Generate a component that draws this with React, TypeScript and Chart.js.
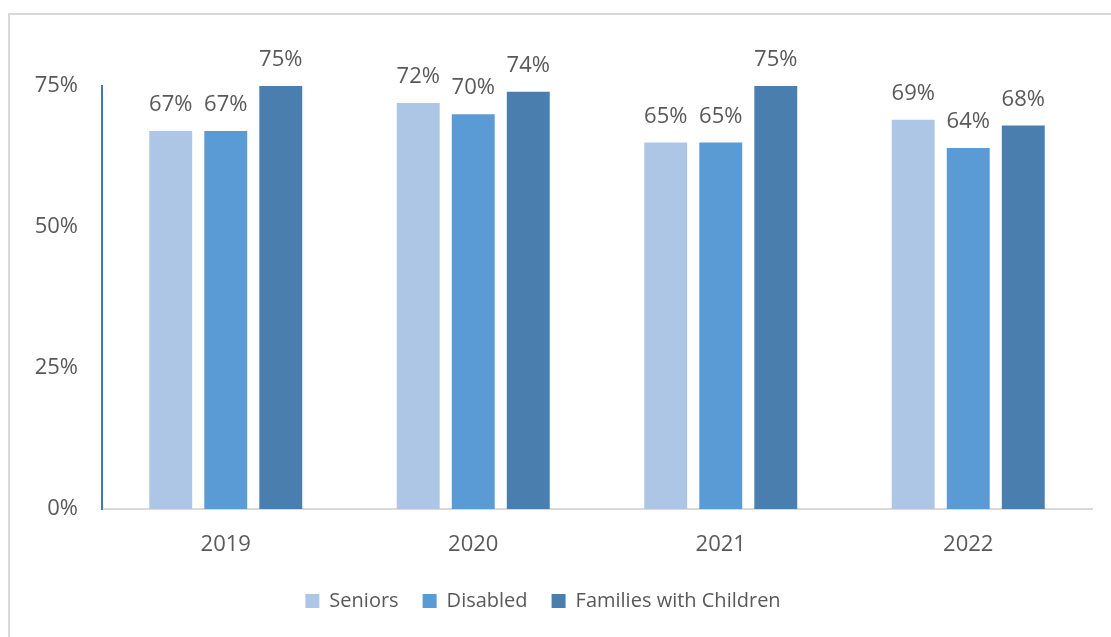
import React, { useEffect, useRef } from "react";
import { Chart, registerables } from "chart.js";

Chart.register(...registerables);

const categories = ["2019", "2020", "2021", "2022"];
const seniors = [67, 72, 65, 69];
const disabled = [67, 70, 65, 64];
const families = [75, 74, 75, 68];
const yTicks = [0, 25, 50, 75];
const seriesNames = ["Seniors", "Disabled", "Families with Children"];
const seriesColors = ["#AEC6E6", "#5B9BD5", "#4A7EAF"];

const FONT = "'Open Sans', sans-serif";
const TEXT = "#595959";

const labelPlugin = {
  id: "valueLabels",
  afterLayout(chart: any) {
    const lg = chart.legend;
    if (lg) {
      lg.left -= 8;
      lg.right -= 8;
    }
  },
  afterDatasetsDraw(chart: any) {
    const ctx = chart.ctx;
    ctx.save();
    ctx.font = `22px ${FONT}`;
    ctx.fillStyle = TEXT;
    ctx.textAlign = "center";
    ctx.textBaseline = "middle";
    chart.data.datasets.forEach((ds: any, i: number) => {
      const meta = chart.getDatasetMeta(i);
      meta.data.forEach((bar: any, j: number) => {
        ctx.fillText(ds.data[j] + "%", bar.x, bar.y - 26);
      });
    });
    ctx.restore();
  },
};

export default function App() {
  const ref = useRef<HTMLCanvasElement>(null);
  useEffect(() => {
    if (!ref.current) return;
    const values = [seniors, disabled, families];
    const chart = new Chart(ref.current, {
      type: "bar",
      data: {
        labels: categories,
        datasets: seriesNames.map((name, i) => ({
          label: name,
          data: values[i],
          backgroundColor: seriesColors[i],
          borderWidth: 0,
          categoryPercentage: 0.667,
          barPercentage: 0.78,
        })),
      },
      options: {
        animation: false,
        responsive: false,
        maintainAspectRatio: false,
        layout: { padding: { top: 71, right: 19, bottom: 16, left: 0 } },
        plugins: {
          tooltip: { enabled: false },
          legend: {
            position: "bottom",
            labels: {
              font: { family: FONT, size: 20 },
              color: TEXT,
              boxWidth: 14,
              boxHeight: 14,
              padding: 24,
            },
          },
        },
        scales: {
          x: {
            grid: { display: false },
            border: { display: true, color: "#D9D9D9", width: 2 },
            ticks: { font: { family: FONT, size: 22 }, color: TEXT, padding: 15 },
            afterFit: (s: any) => {
              s.height = 58;
            },
          },
          y: {
            min: 0,
            max: 75,
            grid: { display: false },
            border: { display: true, color: "#4472C4", width: 2 },
            afterBuildTicks: (s: any) => {
              s.ticks = yTicks.map((v) => ({ value: v }));
            },
            ticks: {
              font: { family: FONT, size: 22 },
              color: TEXT,
              padding: 16,
              callback: (v: any) => v + "%",
            },
            afterFit: (s: any) => {
              s.width = 92;
            },
          },
        },
      },
      plugins: [labelPlugin],
    });
    return () => chart.destroy();
  }, []);
  return (
    <div
      style={{
        position: "absolute",
        left: 8,
        top: 13,
        width: 1103,
        height: 624,
        borderLeft: "2px solid #D9D9D9",
        borderTop: "2px solid #D9D9D9",
        background: "#fff",
        boxSizing: "border-box",
      }}
    >
      <canvas ref={ref} width={1101} height={622} style={{ display: "block" }} />
    </div>
  );
}
